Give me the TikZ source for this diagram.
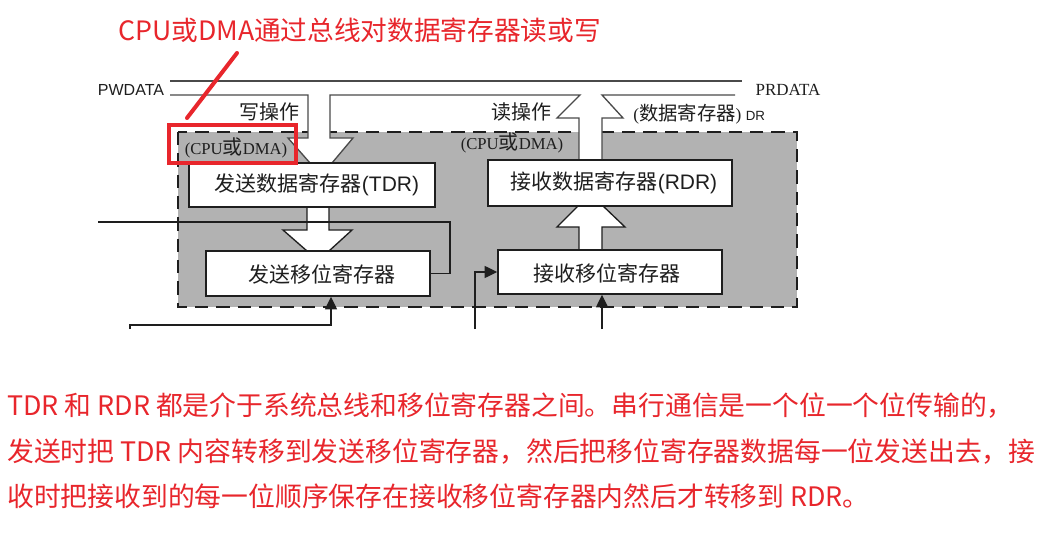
\documentclass[tikz,border=0pt]{standalone}
\usepackage{fontspec}
\setmainfont{Liberation Serif}
\newfontfamily\cjk{Noto Sans CJK SC}
\newfontfamily\arialf{Liberation Sans}
\usetikzlibrary{arrows.meta,fit}
\definecolor{redann}{HTML}{E8262C}
\definecolor{grayfill}{HTML}{B2B2B2}
\definecolor{ink}{HTML}{1E1E1E}
\definecolor{busgray}{HTML}{4A4A4A}
\begin{document}
\begin{tikzpicture}[x=0.75pt,y=-0.75pt,
  regbox/.style={draw=ink, line width=1.1pt, fill=white, inner sep=0pt},
  lbl/.style={inner sep=0pt, text=ink},
  cjklbl/.style={lbl, font=\cjk\fontsize{15.75pt}{18pt}\selectfont},
  wire/.style={draw=ink, line width=1pt},
  arr/.style={wire, -{Triangle[length=9.5pt,width=9pt]}},
  bus/.style={draw=busgray, line width=1pt},
  ann/.style={draw=redann, line width=3pt, line cap=round},
  redtxt/.style={inner sep=0pt, text=redann, anchor=base west, font=\cjk\fontsize{20.1pt}{24pt}\selectfont},
]
\useasboundingbox (0,0) rectangle (1055,541);
\fill[white] (0,0) rectangle (1055,541);

% interface region
\draw[fill=grayfill, draw=ink, line width=1.1pt, dash pattern=on 10pt off 6pt] (178,132) rectangle (797,307);

% buses
\draw[bus] (170,81) -- (742,81);
\fill[white] (308,95) -- (308,138) -- (288,138) -- (310,163) -- (332,163) -- (353,138) -- (330,138) -- (330,95) -- cycle;
\fill[white] (580,95) -- (557,118) -- (579,118) -- (579,160) -- (602,160) -- (602,118) -- (623,118) -- (602,95) -- cycle;
\draw[bus] (170,95) -- (308,95) -- (308,138) -- (288,138) -- (310,163);
\draw[bus] (332,163) -- (353,138) -- (330,138) -- (330,95) -- (580,95) -- (557,118) -- (579,118) -- (579,160);
\draw[bus] (602,160) -- (602,118) -- (623,118) -- (602,95) -- (735,95);

% inner wide arrows
\fill[white] (307,207) -- (307,230) -- (283,230) -- (307,251) -- (329,251) -- (352,230) -- (329,230) -- (329,207) -- cycle;
\draw[wire] (307,207) -- (307,230) -- (283,230) -- (307,251);
\draw[wire] (329,251) -- (352,230) -- (329,230) -- (329,207);
\fill[white] (579,250) -- (579,227) -- (557,227) -- (579,205) -- (602,205) -- (625,227) -- (602,227) -- (602,250) -- cycle;
\draw[wire] (579,250) -- (579,227) -- (557,227) -- (579,205);
\draw[wire] (602,205) -- (625,227) -- (602,227) -- (602,250);

% registers
\node[regbox, fit={(189,163) (435,207)}] (tdr) {};
\node[regbox, fit={(488,160) (732,206)}] (rdr) {};
\node[regbox, fit={(206,251) (430,296)}] (tsr) {};
\node[regbox, fit={(498,250) (722,294)}] (rsr) {};
\node[cjklbl] (tdrt) at (317,185) {发送数据寄存器{\arialf(TDR)}};
\node[cjklbl] (rdrt) at (614,183) {接收数据寄存器{\arialf(RDR)}};
\node[cjklbl] (tsrt) at (322,274) {发送移位寄存器};
\node[cjklbl] (rsrt) at (607,273) {接收移位寄存器};

% labels
\node[lbl, font=\arialf\fontsize{12pt}{14pt}\selectfont] (pw) at (131,90) {PWDATA};
\node[lbl, font=\fontsize{12.75pt}{14pt}\selectfont] (pr) at (788,90) {PRDATA};
\node[lbl, font=\cjk\fontsize{15pt}{17pt}\selectfont] (wop) at (269,112) {写操作};
\node[lbl, font=\cjk\fontsize{15pt}{17pt}\selectfont] (rop) at (521,112) {读操作};
\node[lbl, anchor=west, font=\fontsize{13pt}{15pt}\selectfont] (drl) at (633,114) {({\cjk\fontsize{14.5pt}{16pt}\selectfont 数据寄存器}) {\arialf\fontsize{10pt}{12pt}\selectfont DR}};
\node[lbl, font=\fontsize{12.5pt}{15pt}\selectfont] (cpu1) at (236,148) {(CPU{\cjk\fontsize{15pt}{16pt}\selectfont 或}DMA)};
\node[lbl, font=\fontsize{12.5pt}{15pt}\selectfont] (cpu2) at (512,143) {(CPU{\cjk\fontsize{15pt}{16pt}\selectfont 或}DMA)};

% wires
\coordinate (loopin) at (98,222);
\draw[wire] (loopin) -- (450,222) |- (tsr.east);
\coordinate (tin) at (130,329);
\draw[arr] (tin) |- (331,325) -- (331,0 |- tsr.south);
\coordinate (rin1) at (475,329);
\draw[arr] (rin1) |- (rsr.west);
\coordinate (rin2) at (602,329);
\draw[arr] (rin2) -- (rin2 |- rsr.south);

% red annotation
\node[redtxt, font=\cjk\fontsize{20pt}{24pt}\selectfont] (title) at (118,41) {CPU或DMA通过总线对数据寄存器读或写};
\node[draw=redann, line width=3pt, inner sep=0pt, fit={(169,125) (296,163)}] (redbox) {};
\coordinate (rl1) at (187,118);
\coordinate (rl2) at (237,53);
\draw[ann] (rl1) -- (rl2);

\node[redtxt] (p1) at (7,415) {TDR 和 RDR 都是介于系统总线和移位寄存器之间。串行通信是一个位一个位传输的，};
\node[redtxt] (p2) at (7,461) {发送时把 TDR 内容转移到发送移位寄存器，然后把移位寄存器数据每一位发送出去，接};
\node[redtxt] (p3) at (7,506) {收时把接收到的每一位顺序保存在接收移位寄存器内然后才转移到 RDR。};
\end{tikzpicture}
\end{document}
